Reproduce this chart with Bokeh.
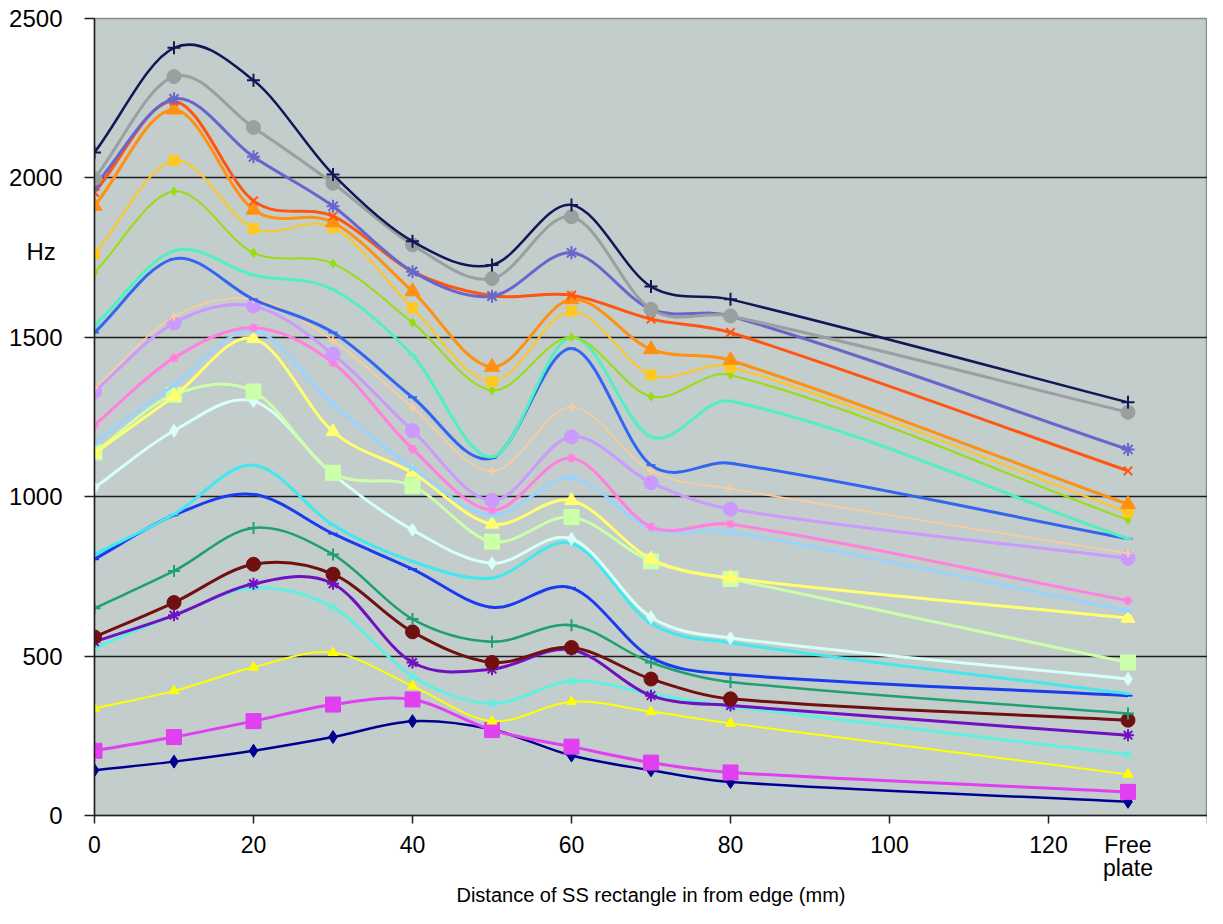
from bokeh.plotting import figure
from bokeh.models import Range1d, FixedTicker, ColumnDataSource
from bokeh.embed import file_html
from bokeh.resources import INLINE

# ---------------- data ----------------
x_pos = [0, 10, 20, 30, 40, 50, 60, 70, 80, 130]   # "Free plate" plotted at 130

s01 = [142, 169, 203, 246, 296, 270, 188, 142, 105, 43]
s02 = [203, 246, 296, 348, 364, 268, 216, 166, 135, 74]
s03 = [336, 391, 465, 511, 406, 296, 357, 326, 289, 129]
s04 = [526, 628, 714, 653, 437, 351, 422, 382, 342, 191]
s05 = [545, 628, 727, 727, 480, 459, 520, 376, 345, 252]
s06 = [560, 668, 788, 757, 576, 480, 527, 428, 366, 299]
s07 = [650, 767, 902, 819, 616, 545, 597, 480, 419, 320]
s08 = [804, 942, 1007, 884, 773, 653, 714, 496, 443, 376]
s09 = [819, 945, 1099, 911, 797, 745, 853, 603, 542, 382]
s10 = [1028, 1207, 1300, 1070, 896, 791, 868, 622, 557, 428]
s11 = [1139, 1320, 1330, 1075, 1034, 859, 936, 797, 742, 480]
s12 = [1136, 1315, 1496, 1204, 1075, 914, 988, 804, 745, 619]
s13 = [1170, 1350, 1521, 1290, 1090, 942, 1059, 899, 890, 643]
s14 = [1225, 1435, 1530, 1420, 1150, 958, 1121, 905, 914, 674]
s15 = [1330, 1545, 1598, 1447, 1207, 988, 1188, 1044, 961, 807]
s16 = [1340, 1565, 1620, 1490, 1280, 1080, 1281, 1081, 1025, 822]
s17 = [1515, 1746, 1619, 1515, 1312, 1121, 1465, 1099, 1105, 868]
s18 = [1536, 1771, 1695, 1650, 1444, 1125, 1500, 1188, 1300, 868]
s19 = [1703, 1958, 1765, 1731, 1546, 1334, 1500, 1314, 1382, 927]
s20 = [1761, 2054, 1841, 1844, 1592, 1361, 1582, 1382, 1407, 951]
s21 = [1912, 2214, 1900, 1860, 1644, 1407, 1619, 1462, 1428, 976]
s22 = [1955, 2240, 1928, 1880, 1706, 1630, 1632, 1557, 1515, 1081]
s23 = [1975, 2248, 2066, 1911, 1706, 1629, 1765, 1588, 1567, 1148]
s24 = [1998, 2318, 2158, 1983, 1790, 1684, 1878, 1588, 1567, 1265]
s25 = [2080, 2408, 2306, 2011, 1801, 1727, 1915, 1659, 1619, 1296]

series = [s01, s02, s03, s04, s05, s06, s07, s08, s09, s10, s11, s12, s13,
          s14, s15, s16, s17, s18, s19, s20, s21, s22, s23, s24, s25]

x_tick_marks = [0, 20, 40, 60, 80, 100, 120, 140]
x_tick_labels = {0: "0", 20: "20", 40: "40", 60: "60", 80: "80",
                 100: "100", 120: "120", 130: "Free\nplate"}
y_tick_marks = [0, 500, 1000, 1500, 2000, 2500]
y_tick_labels = {0: "0", 500: "500", 1000: "1000", 1500: "1500",
                 2000: "2000", 2500: "2500", 1770: "Hz\u00a0"}
y_grid = [500, 1000, 1500, 2000]

# ---------------- styles ----------------
colors = ["#000090", "#e040f0", "#ffff00", "#60f0e0", "#7010c0", "#701010",
          "#20a070", "#1a3cf0", "#40e8f0", "#d8fff8", "#ccffaa", "#ffff70",
          "#99d4ff", "#ff80e0", "#cc99ff", "#ffcc99", "#3366f0", "#50f0c0",
          "#99dd10", "#ffc820", "#ff9010", "#ff5510", "#6666cc", "#9aa0a0",
          "#101858"]
markers = ["diamond", "square", "triangle", "x", "asterisk", "circle", "cross",
           "dash", "dash",
           "diamond", "square", "triangle", "x", "asterisk", "circle", "cross",
           "dash", "dash",
           "diamond", "square", "triangle", "x", "asterisk", "circle", "cross"]
msizes = [13, 15, 10, 10, 12, 14, 12, 9, 8,
          13, 15, 14, 9, 9, 14, 8, 9, 8,
          9, 10, 15, 12, 13, 14, 13]
lwidths = [2.5, 3, 2, 3, 3, 3, 2.5, 3, 3,
           3, 3, 3, 3, 3, 3, 1.5, 3, 3,
           2, 2, 3, 3, 3, 3, 2.5]


def smooth(xs, ys):
    n = len(xs)
    m = []
    for i in range(n):
        if i == 0:
            m.append((ys[1] - ys[0]) / (xs[1] - xs[0]))
        elif i == n - 1:
            m.append((ys[-1] - ys[-2]) / (xs[-1] - xs[-2]))
        else:
            m.append((ys[i + 1] - ys[i - 1]) / (xs[i + 1] - xs[i - 1]))
    d = dict(x0=[], y0=[], x1=[], y1=[], cx0=[], cy0=[], cx1=[], cy1=[])
    for i in range(n - 1):
        h = xs[i + 1] - xs[i]
        d["x0"].append(xs[i]); d["y0"].append(ys[i])
        d["x1"].append(xs[i + 1]); d["y1"].append(ys[i + 1])
        d["cx0"].append(xs[i] + h / 3); d["cy0"].append(ys[i] + m[i] * h / 3)
        d["cx1"].append(xs[i + 1] - h / 3); d["cy1"].append(ys[i + 1] - m[i + 1] * h / 3)
    return d


FONT = "Liberation Sans"
AX = "#1e1e1e"

p = figure(width=1207, height=908, output_backend="svg", toolbar_location=None,
           x_range=Range1d(0, 140), y_range=Range1d(0, 2500),
           min_border_left=94, min_border_right=0, min_border_top=18,
           min_border_bottom=80)

p.background_fill_color = "#c3cdcb"
p.border_fill_color = "white"
p.outline_line_color = "#8c8c8c"
p.outline_line_width = 1.5

p.xgrid.visible = False
p.ygrid.grid_line_color = AX
p.ygrid.grid_line_width = 1.5
p.ygrid.ticker = FixedTicker(ticks=y_grid)

# labels come from the major ticks (no marks), marks from the minor ticks
p.yaxis.ticker = FixedTicker(ticks=list(y_tick_labels.keys()), minor_ticks=y_tick_marks)
p.yaxis.major_label_overrides = y_tick_labels
p.xaxis.ticker = FixedTicker(ticks=list(x_tick_labels.keys()), minor_ticks=x_tick_marks)
p.xaxis.major_label_overrides = x_tick_labels

for ax in (p.xaxis, p.yaxis):
    ax.axis_line_color = AX
    ax.axis_line_width = 1.5
    ax.major_tick_out = 0
    ax.major_tick_in = 0
    ax.major_tick_line_color = None
    ax.minor_tick_line_color = AX
    ax.minor_tick_line_width = 1.5
    ax.minor_tick_in = 0
    ax.major_label_text_font = FONT
    ax.major_label_text_font_size = "24px"
    ax.major_label_text_color = "black"
p.xaxis.major_label_text_font_size = "23px"
p.xaxis.major_label_text_line_height = 0.9
p.yaxis.minor_tick_out = 10
p.yaxis.major_label_standoff = 22
p.xaxis.minor_tick_out = 8
p.xaxis.major_label_standoff = 8

p.xaxis.axis_label = "Distance of SS rectangle in from edge (mm)"
p.xaxis.axis_label_text_font = FONT
p.xaxis.axis_label_text_font_size = "20px"
p.xaxis.axis_label_text_font_style = "normal"
p.xaxis.axis_label_text_color = "black"
p.xaxis.axis_label_standoff = 0

for ys, c, mk, ms, lw in zip(series, colors, markers, msizes, lwidths):
    src = ColumnDataSource(smooth(x_pos, ys))
    p.bezier(x0="x0", y0="y0", x1="x1", y1="y1", cx0="cx0", cy0="cy0",
             cx1="cx1", cy1="cy1", source=src, line_color=c, line_width=lw)
    if mk in ("x", "asterisk", "cross", "dash"):
        p.scatter(x_pos, ys, marker=mk, size=ms, line_color=c, line_width=2)
    else:
        p.scatter(x_pos, ys, marker=mk, size=ms, fill_color=c, line_color=c)

open("out.html", "w").write(file_html(p, INLINE))
